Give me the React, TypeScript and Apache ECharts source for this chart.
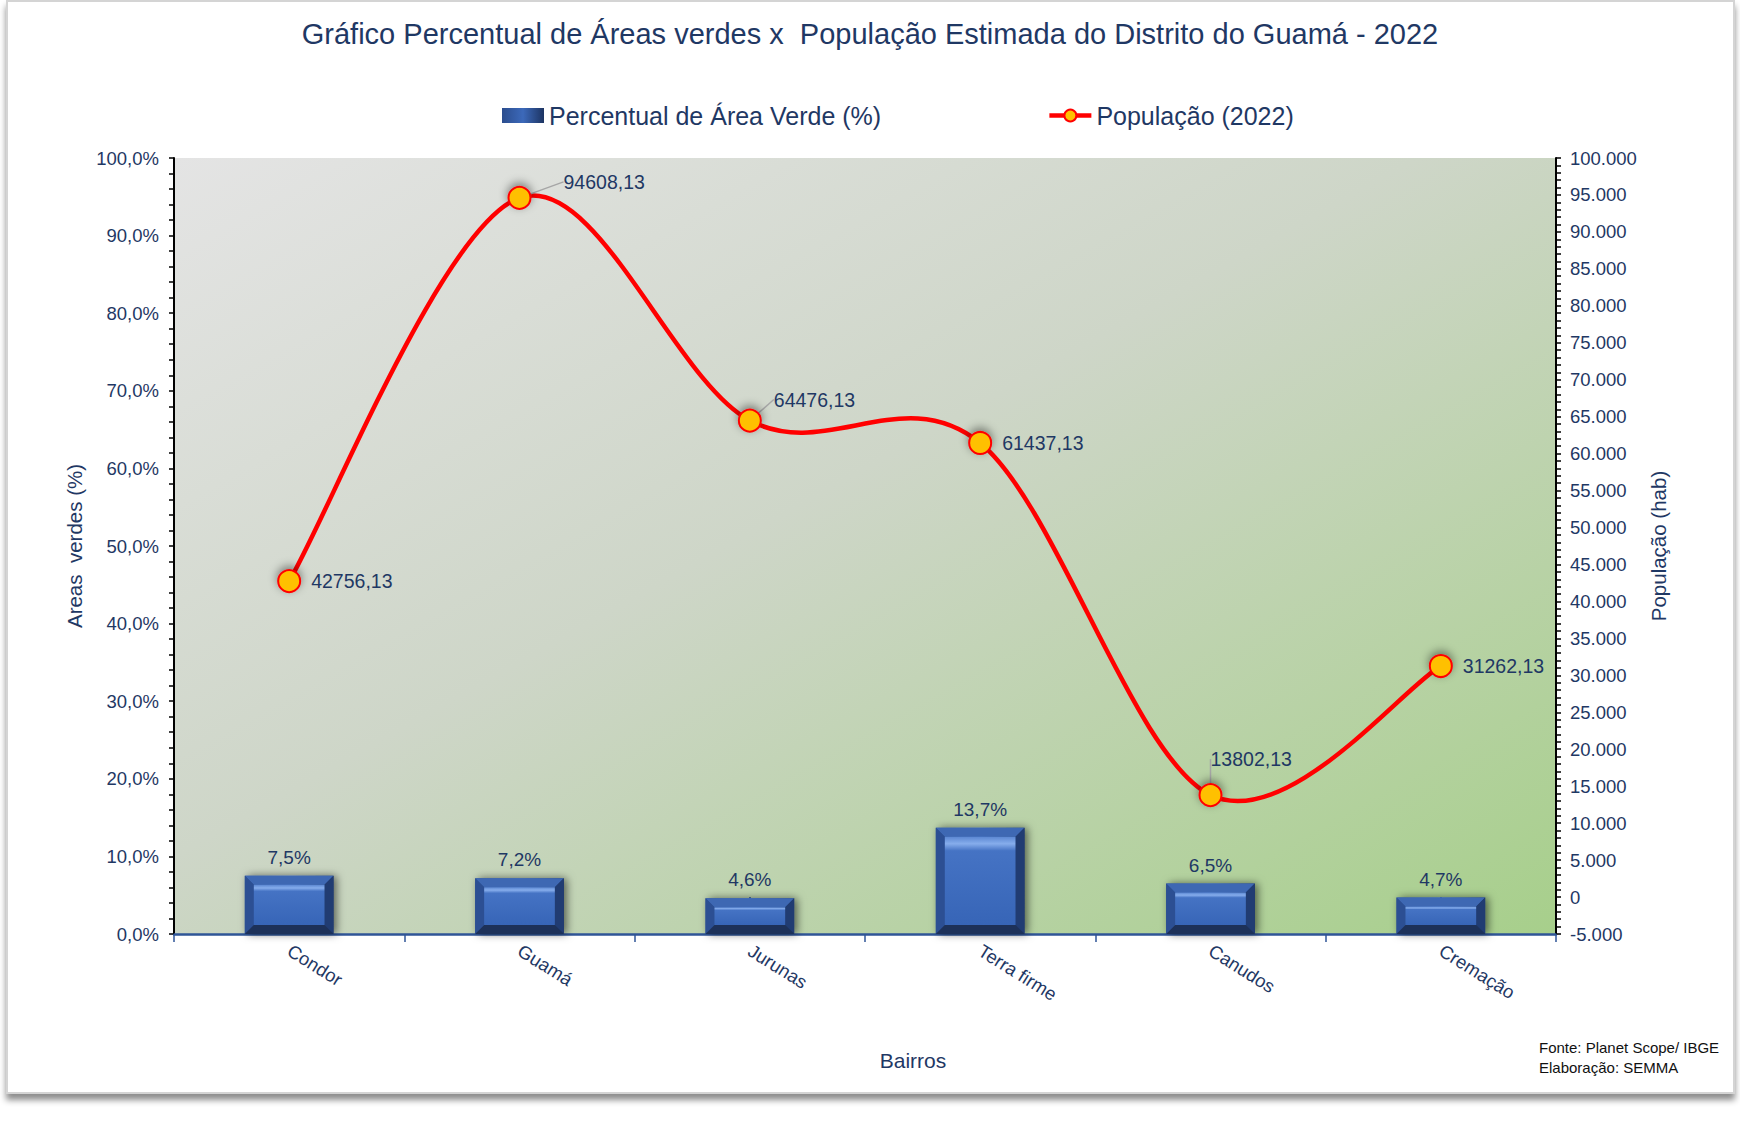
import React, { useEffect, useRef } from "react";
import * as echarts from "echarts";

const categories = ["Condor", "Guamá", "Jurunas", "Terra firme", "Canudos", "Cremação"];
const greenAreaPct = [7.5, 7.2, 4.6, 13.7, 6.5, 4.7];
const population = [42756.13, 94608.13, 64476.13, 61437.13, 13802.13, 31262.13];

const TITLE = "Gráfico Percentual de Áreas verdes x  População Estimada do Distrito do Guamá - 2022";
const BAR_NAME = "Percentual de Área Verde (%)";
const LINE_NAME = "População (2022)";
const NAVY = "#1f3864";
const FONT = "'Liberation Sans', Arial, sans-serif";
const BAR_RATIO = 0.385;

// label displacement for the population labels (dx, dy)
const labelShift: Record<number, [number, number]> = {
  1: [22, -16],
  2: [2, -21],
  4: [-22, -36],
};

function fmtThousands(v: number): string {
  const neg = v < 0;
  const s = Math.abs(Math.round(v)).toString().replace(/\B(?=(\d{3})+(?!\d))/g, ".");
  return (neg ? "-" : "") + s;
}

export default function App() {
  const ref = useRef<HTMLDivElement>(null);
  useEffect(() => {
    if (!ref.current) return;
    const chart = echarts.init(ref.current, undefined, { renderer: "svg" });
    const option: any = {
      animation: false,
      backgroundColor: "#ffffff",
      textStyle: { fontFamily: FONT },
      title: {
        text: TITLE,
        left: "center",
        top: 14,
        textStyle: { fontSize: 29, fontWeight: "normal", color: NAVY, fontFamily: FONT },
      },
      legend: {
        left: 497,
        top: 98,
        itemGap: 166,
        itemWidth: 42,
        itemHeight: 15,
        textStyle: { fontSize: 25, color: NAVY, fontFamily: FONT },
        data: [
          { name: BAR_NAME, icon: "rect" },
          {
            name: LINE_NAME,
            lineStyle: { color: "#ff0000", width: 4.5, opacity: 1 },
          },
        ],
      },
      graphic: [
        {
          type: "rect",
          z: -10,
          silent: true,
          shape: { x: 7, y: 1, width: 1727, height: 1092 },
          style: {
            fill: "#ffffff",
            stroke: "#d4d4d4",
            lineWidth: 2,
            shadowBlur: 6,
            shadowOffsetY: 6,
            shadowOffsetX: 0,
            shadowColor: "rgba(0,0,0,0.45)",
          },
        },
        {
          type: "text",
          left: 1539,
          top: 1037,
          style: {
            text: "Fonte: Planet Scope/ IBGE\nElaboração: SEMMA",
            fill: "#111111",
            fontSize: 15,
            lineHeight: 20,
            fontFamily: "'Liberation Sans Narrow', 'Liberation Sans', Arial, sans-serif",
          },
        },
      ],
      grid: {
        left: 174,
        right: 184,
        top: 158,
        bottom: 213,
        show: true,
        borderWidth: 0,
        backgroundColor: new echarts.graphic.LinearGradient(0, 0, 1, 1, [
          { offset: 0, color: "#e4e4e4" },
          { offset: 0.45, color: "#ced6c8" },
          { offset: 1, color: "#a7cf8b" },
        ]),
      },
      xAxis: [
        {
          type: "category",
          data: categories,
          name: "Bairros",
          nameLocation: "middle",
          nameGap: 116,
          nameTextStyle: { fontSize: 21, color: NAVY, padding: [0, 0, 0, 96] },
          axisLine: { lineStyle: { color: "#2f5597", width: 2.5 } },
          axisTick: { show: true, length: 8, lineStyle: { color: "#2f5597", width: 1.5 } },
          axisLabel: { rotate: -32, margin: 15, fontSize: 18.5, color: NAVY },
          splitLine: { show: false },
        },
        {
          type: "category",
          data: categories,
          position: "bottom",
          axisLine: { show: false },
          axisTick: { show: true, alignWithLabel: true, length: 6, lineStyle: { color: "#2f5597", width: 1.5 } },
          axisLabel: { show: false },
          splitLine: { show: false },
        },
      ],
      yAxis: [
        {
          type: "value",
          min: 0,
          max: 100,
          interval: 10,
          name: "Areas  verdes (%)",
          nameLocation: "middle",
          nameGap: 86,
          nameRotate: 90,
          nameTextStyle: { fontSize: 20.5, color: NAVY },
          axisLine: { show: true, lineStyle: { color: "#000000", width: 2 } },
          axisTick: { show: true, length: 5, lineStyle: { color: "#000000", width: 1.5 } },
          minorTick: { show: true, splitNumber: 5, length: 5, lineStyle: { color: "#000000", width: 1.5 } },
          axisLabel: {
            fontSize: 18.5,
            color: NAVY,
            margin: 15,
            formatter: (v: number) => v.toFixed(1).replace(".", ",") + "%",
          },
          splitLine: { show: false },
          minorSplitLine: { show: false },
        },
        {
          type: "value",
          min: -5000,
          max: 100000,
          interval: 5000,
          position: "right",
          name: "População (hab)",
          nameLocation: "middle",
          nameGap: 92,
          nameRotate: 90,
          nameTextStyle: { fontSize: 20.5, color: NAVY },
          axisLine: { show: true, lineStyle: { color: "#000000", width: 2 } },
          axisTick: { show: true, length: 5, lineStyle: { color: "#000000", width: 1.5 } },
          minorTick: { show: true, splitNumber: 5, length: 5, lineStyle: { color: "#000000", width: 1.5 } },
          axisLabel: {
            fontSize: 18.5,
            color: NAVY,
            margin: 14,
            formatter: (v: number) => fmtThousands(v),
          },
          splitLine: { show: false },
          minorSplitLine: { show: false },
        },
      ],
      series: [
        {
          name: BAR_NAME,
          type: "bar",
          data: greenAreaPct,
          barWidth: BAR_RATIO * 100 + "%",
          z: 2,
          itemStyle: {
            color: new echarts.graphic.LinearGradient(0, 0, 1, 0, [
              { offset: 0, color: "#2b4d8e" },
              { offset: 0.5, color: "#3c69ba" },
              { offset: 1, color: "#1d3462" },
            ]),
            shadowBlur: 8,
            shadowOffsetX: 3,
            shadowOffsetY: 0,
            shadowColor: "rgba(0,0,0,0.55)",
          },
          label: {
            show: true,
            position: "top",
            distance: 9,
            fontSize: 19,
            color: NAVY,
            formatter: (p: any) => Number(p.value).toFixed(1).replace(".", ",") + "%",
          },
        },
        {
          type: "custom",
          z: 3,
          silent: true,
          data: greenAreaPct.map((v, i) => [i, v]),
          renderItem: (params: any, api: any) => {
            const i = api.value(0);
            const v = api.value(1);
            const top = api.coord([i, v]);
            const bot = api.coord([i, 0]);
            const w = api.size([1, 0])[0] * BAR_RATIO;
            const x0 = top[0] - w / 2;
            const x1 = top[0] + w / 2;
            const y0 = top[1];
            const y1 = bot[1];
            const b = Math.min(9, (y1 - y0) / 3);
            return {
              type: "group",
              children: [
                {
                  type: "polygon",
                  shape: { points: [[x0, y0], [x1, y0], [x1 - b, y0 + b], [x0 + b, y0 + b]] },
                  style: { fill: "#3e68b3" },
                },
                {
                  type: "polygon",
                  shape: { points: [[x0, y0], [x0 + b, y0 + b], [x0 + b, y1 - b], [x0, y1]] },
                  style: { fill: "#2c4f93" },
                },
                {
                  type: "polygon",
                  shape: { points: [[x1, y0], [x1, y1], [x1 - b, y1 - b], [x1 - b, y0 + b]] },
                  style: { fill: "#213c72" },
                },
                {
                  type: "polygon",
                  shape: { points: [[x0, y1], [x0 + b, y1 - b], [x1 - b, y1 - b], [x1, y1]] },
                  style: { fill: "#1d3159" },
                },
                {
                  type: "rect",
                  shape: { x: x0 + b, y: y0 + b, width: w - 2 * b, height: Math.max(0, y1 - y0 - 2 * b) },
                  style: {
                    fill: new echarts.graphic.LinearGradient(0, 0, 0, 1, [
                      { offset: 0, color: "#5b87d2" },
                      { offset: 0.08, color: "#86adec" },
                      { offset: 0.16, color: "#4573c4" },
                      { offset: 1, color: "#3765b7" },
                    ]),
                  },
                },
              ],
            };
          },
        },
        {
          // smoothed population curve (Catmull-Rom / Excel-like smoothing)
          type: "custom",
          yAxisIndex: 1,
          z: 4,
          silent: true,
          data: population.map((v, i) => [i, v]),
          renderItem: (params: any, api: any) => {
            const i = params.dataIndex;
            const n = population.length;
            if (i >= n - 1) return null;
            const P = (k: number) => {
              const kk = Math.max(0, Math.min(n - 1, k));
              return api.coord([kk, population[kk]]);
            };
            const p0 = P(i - 1);
            const p1 = P(i);
            const p2 = P(i + 1);
            const p3 = P(i + 2);
            const c1 = [p1[0] + (p2[0] - p0[0]) / 6, p1[1] + (p2[1] - p0[1]) / 6];
            const c2 = [p2[0] - (p3[0] - p1[0]) / 6, p2[1] - (p3[1] - p1[1]) / 6];
            return {
              type: "bezierCurve",
              shape: {
                x1: p1[0], y1: p1[1], x2: p2[0], y2: p2[1],
                cpx1: c1[0], cpy1: c1[1], cpx2: c2[0], cpy2: c2[1],
              },
              style: { stroke: "#ff0000", lineWidth: 4.5, fill: null, lineCap: "round" },
            };
          },
        },
        {
          name: LINE_NAME,
          type: "line",
          yAxisIndex: 1,
          data: population.map((v, i) => ({
            value: v,
            labelLine: { show: !!labelShift[i] },
          })),
          z: 5,
          symbol: "circle",
          symbolSize: 22,
          lineStyle: { color: "#ff0000", width: 4.5, opacity: 0 },
          itemStyle: {
            color: "#ffc000",
            borderColor: "#ff0000",
            borderWidth: 2,
            shadowBlur: 10,
            shadowOffsetY: -3,
            shadowColor: "rgba(0,0,0,0.45)",
          },
          label: {
            show: true,
            position: "right",
            distance: 10,
            fontSize: 19.5,
            color: NAVY,
            formatter: (p: any) => Number(p.value).toFixed(2).replace(".", ","),
          },
          labelLine: { show: false, lineStyle: { color: "#a6a6a6", width: 1.5 } },
          labelLayout: (p: any) => {
            const s = labelShift[p.dataIndex];
            if (!s) return {};
            return { dx: s[0], dy: s[1] };
          },
        },
      ],
    };
    chart.setOption(option);
    return () => chart.dispose();
  }, []);
  return (
    <div
      ref={ref}
      style={{ position: "fixed", left: 0, top: 0, width: 1740, height: 1147, background: "#ffffff" }}
    />
  );
}
